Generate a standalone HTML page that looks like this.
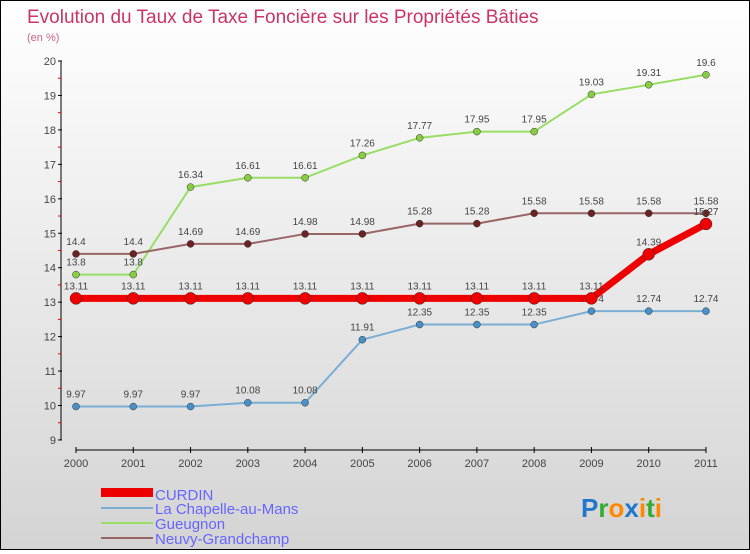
<!DOCTYPE html>
<html><head><meta charset="utf-8"><style>
html,body{margin:0;padding:0}
body{width:750px;height:550px;overflow:hidden;font-family:"Liberation Sans",sans-serif}
#c{position:absolute;left:0;top:0;width:748px;height:548px;border:1px solid #000;background:linear-gradient(#ffffff,#d4d4d4)}
</style></head><body>
<div id="c">
<svg id="s" width="748" height="548" xmlns="http://www.w3.org/2000/svg" font-family="Liberation Sans, sans-serif">
<text x="26" y="22" font-size="19" fill="#cc3366">Evolution du Taux de Taxe Foncière sur les Propriétés Bâties</text>
<text x="26" y="40" font-size="11" fill="#cc6688">(en %)</text>
<g id="axes"></g><g id="series"></g>
<g>
<rect x="100" y="487" width="52" height="9" fill="#ee0000"/>
<text x="154" y="499" font-size="15" fill="#6666ff">CURDIN</text>
<rect x="100" y="506" width="52" height="2" fill="#7aaed4"/>
<text x="154" y="513" font-size="15" fill="#6666ff">La Chapelle-au-Mans</text>
<rect x="100" y="521" width="52" height="2" fill="#99dd66"/>
<text x="154" y="528" font-size="15" fill="#6666ff">Gueugnon</text>
<rect x="100" y="536" width="52" height="2" fill="#996666"/>
<text x="154" y="543" font-size="15" fill="#6666ff">Neuvy-Grandchamp</text>
</g>
<text x="580" y="516" font-size="26" font-weight="bold"><tspan fill="#2277cc">P</tspan><tspan fill="#33aa33">r</tspan><tspan fill="#ff8800">o</tspan><tspan fill="#2277cc">x</tspan><tspan fill="#ff8800">i</tspan><tspan fill="#33aa33">t</tspan><tspan fill="#ff8800">i</tspan></text>
</svg></div>
<script>
const years=["2000","2001","2002","2003","2004","2005","2006","2007","2008","2009","2010","2011"];
const yTicks=[9,10,11,12,13,14,15,16,17,18,19,20];
const curdin=[13.11,13.11,13.11,13.11,13.11,13.11,13.11,13.11,13.11,13.11,14.39,15.27];
const chapelle=[9.97,9.97,9.97,10.08,10.08,11.91,12.35,12.35,12.35,12.74,12.74,12.74];
const gueugnon=[13.8,13.8,16.34,16.61,16.61,17.26,17.77,17.95,17.95,19.03,19.31,19.6];
const neuvy=[14.4,14.4,14.69,14.69,14.98,14.98,15.28,15.28,15.58,15.58,15.58,15.58];
const NS="http://www.w3.org/2000/svg";
const X=i=>75+i*57.27, Y=v=>60+(20-v)*34.45;
function mk(t,a,p){const e=document.createElementNS(NS,t);for(const k in a)e.setAttribute(k,a[k]);p.appendChild(e);return e;}
const ax=document.getElementById('axes'), sr=document.getElementById('series');
let l=mk('line',{x1:60,y1:Y(20),x2:60,y2:Y(9),stroke:'#000'},ax);


yTicks.forEach(v=>{mk('line',{x1:57,x2:61,y1:Y(v),y2:Y(v),stroke:'#000'},ax);
 if(v<20)mk('line',{x1:57,x2:60,y1:Y(v+0.5),y2:Y(v+0.5),stroke:'#e00'},ax);
 const t=mk('text',{x:55,y:Y(v)+4,'font-size':11,fill:'#444','text-anchor':'end'},ax);t.textContent=v;
 
 });
l=mk('line',{x1:X(0),y1:449,x2:X(11),y2:449,stroke:'#000'},ax);


years.forEach((y,i)=>{mk('line',{x1:X(i),x2:X(i),y1:446,y2:452,stroke:'#000'},ax);
 const t=mk('text',{x:X(i),y:466,'font-size':11,fill:'#444','text-anchor':'middle'},ax);t.textContent=y;
 
 });
function draw(data,name,col,dot,w,r){
 const g=mk('g',{},sr);
 
 
 mk('polyline',{points:data.map((v,i)=>X(i)+','+Y(v)).join(' '),fill:'none',stroke:col,'stroke-width':w},g);
 data.forEach((v,i)=>{const c=mk('circle',{cx:X(i),cy:Y(v),r:r,fill:dot,stroke:'#333','stroke-width':0.5},g);
  
  
  const t=mk('text',{x:X(i),y:Y(v)-9,'font-size':10,fill:'#444','text-anchor':'middle'},g);t.textContent=v;
  
  });
}
draw(chapelle,'chapelle','#7aaed4','#4a90c8',2,3.5);
draw(gueugnon,'gueugnon','#99dd66','#88cc44',2,3.5);
draw(neuvy,'neuvy','#996666','#6a2222',2,3.5);
draw(curdin,'curdin','#ee0000','#ee0000',7,6);
</script>
</body></html>
